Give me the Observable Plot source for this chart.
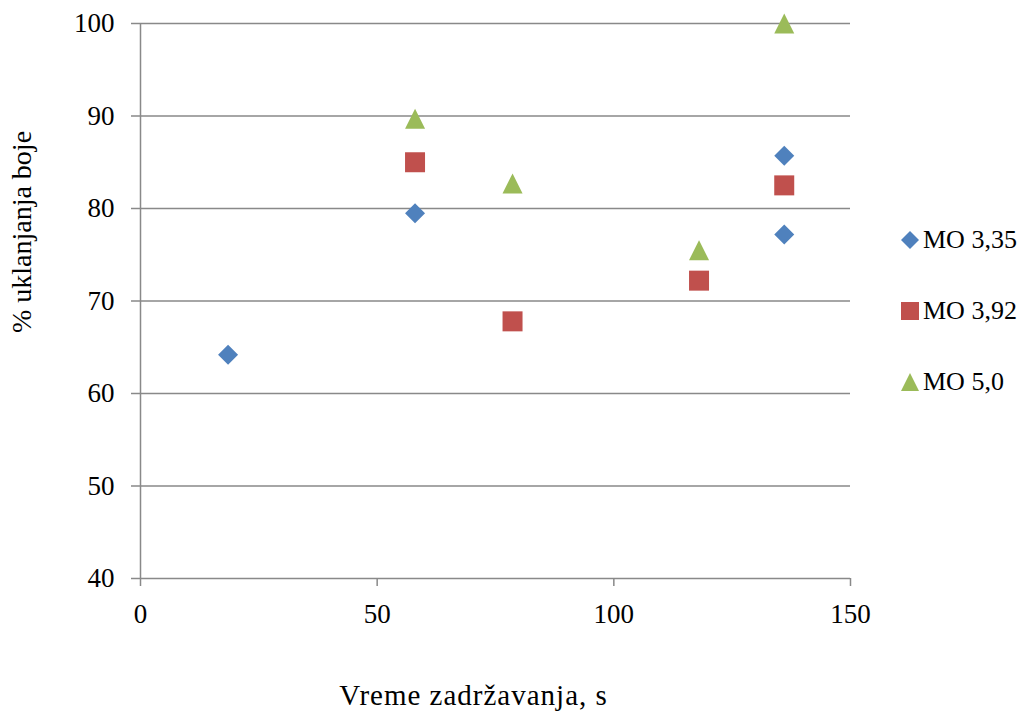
<!DOCTYPE html>
<html>
<head>
<meta charset="utf-8">
<script src="https://cdn.jsdelivr.net/npm/d3@7"></script>
<script src="https://cdn.jsdelivr.net/npm/@observablehq/plot@0.6"></script>
<style>
  html, body { margin: 0; padding: 0; background: #fff; }
  #wrap { position: relative; width: 1021px; height: 717px; font-family: "Liberation Serif", "Times New Roman", serif; }
  #legend { position: absolute; left: 901px; top: 0; }
  .row { position: absolute; left: 0; display: flex; align-items: center; height: 26px; white-space: nowrap; }
  .row span { margin-left: 4px; font-size: 26px; line-height: 26px; color: #000; }
</style>
</head>
<body>
<div id="wrap"><div id="legend"></div></div>
<script>
// ---- data ----
const seriesNames = ["MO 3,35", "MO 3,92", "MO 5,0"];
const seriesColors = ["#4F81BD", "#C0504D", "#9BBB59"];
const mo335X = [18.5, 58, 136, 136];
const mo335Y = [64.2, 79.5, 85.7, 77.2];
const mo392X = [58, 78.6, 118, 136];
const mo392Y = [85.0, 67.8, 72.2, 82.5];
const mo50X = [58, 78.6, 118, 136];
const mo50Y = [89.7, 82.7, 75.5, 100];
const xTicks = [0, 50, 100, 150];
const yTicks = [40, 50, 60, 70, 80, 90, 100];
const xLabel = "Vreme zadržavanja, s";
const yLabel = "% uklanjanja boje";

// custom symbols: width = sqrt(size)
const diamondSym = {draw(ctx, size) { const h = Math.sqrt(size) / 2; ctx.moveTo(0, -h); ctx.lineTo(h, 0); ctx.lineTo(0, h); ctx.lineTo(-h, 0); ctx.closePath(); }};
const squareSym = {draw(ctx, size) { const h = Math.sqrt(size) / 2; ctx.rect(-h, -h, 2 * h, 2 * h); }};
const triangleSym = {draw(ctx, size) { const h = Math.sqrt(size) / 2; ctx.moveTo(0, -h); ctx.lineTo(h, h); ctx.lineTo(-h, h); ctx.closePath(); }};
const symbols = [diamondSym, squareSym, triangleSym];

const toRows = (xs, ys) => xs.map((x, i) => ({x, y: ys[i]}));
const series = [toRows(mo335X, mo335Y), toRows(mo392X, mo392Y), toRows(mo50X, mo50Y)];

const markerR = 20 / Math.sqrt(Math.PI);
const gridColor = "#898989";

const chart = Plot.plot({
  width: 1021,
  height: 717,
  marginLeft: 140,
  marginRight: 171,
  marginTop: 23,
  marginBottom: 139,
  style: {fontFamily: "Liberation Serif, Times New Roman, serif", fontSize: "27px", color: "#000", background: "#fff"},
  x: {domain: [0, 150]},
  y: {domain: [40, 100]},
  marks: [
    Plot.ruleY(yTicks, {stroke: gridColor, strokeWidth: 1.5}),
    Plot.ruleX([0], {stroke: gridColor, strokeWidth: 1.5}),
    Plot.axisY({ticks: yTicks, tickSize: 9, tickPadding: 17, stroke: gridColor, strokeWidth: 1.5, fontSize: 27, label: null, tickFormat: d => String(d)}),
    Plot.axisX({ticks: xTicks, tickSize: 8, tickPadding: 17, stroke: gridColor, strokeWidth: 1.5, fontSize: 27, label: null, tickFormat: d => String(d)}),
    ...series.map((data, i) => Plot.dot(data, {x: "x", y: "y", symbol: () => symbols[i], r: markerR, fill: seriesColors[i], stroke: "none"})),
    Plot.text([xLabel], {text: d => d, frameAnchor: "bottom", textAnchor: "middle", lineAnchor: "middle", dx: -22, dy: 117.7, fontSize: 29, fill: "#000"}),
    Plot.text([yLabel], {text: d => d, frameAnchor: "left", textAnchor: "middle", lineAnchor: "middle", rotate: -90, dx: -118.3, dy: -69, fontSize: 28, fill: "#000"})
  ]
});
d3.select(chart).selectAll("text").filter(function() { return this.textContent === xLabel; }).attr("letter-spacing", "1px");
document.getElementById("wrap").prepend(chart);

// ---- legend (HTML) ----
const legendTops = [227, 298, 369];
const legend = document.getElementById("legend");
seriesNames.forEach((name, i) => {
  const row = document.createElement("div");
  row.className = "row";
  row.style.top = legendTops[i] + "px";
  const svg = d3.create("svg").attr("width", 18).attr("height", 18);
  svg.append("path")
    .attr("transform", "translate(9,9)")
    .attr("d", d3.symbol(symbols[i], 18 * 18)())
    .attr("fill", seriesColors[i]);
  row.appendChild(svg.node());
  const t = document.createElement("span");
  t.textContent = name;
  row.appendChild(t);
  legend.appendChild(row);
});
</script>
</body>
</html>
